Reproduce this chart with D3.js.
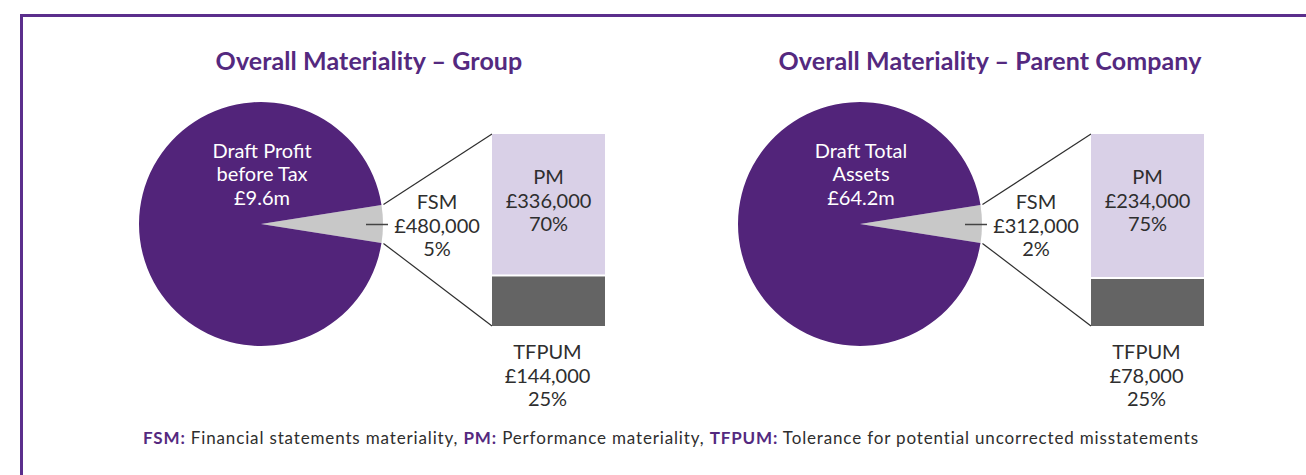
<!DOCTYPE html>
<html>
<head>
<meta charset="utf-8">
<script src="https://cdn.jsdelivr.net/npm/d3@7"></script>
<style>
  body { margin: 0; background: #fff; }
  svg text { font-family: Lato, "Open Sans", sans-serif; }
</style>
</head>
<body>
<div id="chart"></div>
<script>
const W = 1306, H = 475;

// data
const titles = ["Overall Materiality \u2013 Group", "Overall Materiality \u2013 Parent Company"];
const benchmarkLabels = [["Draft Profit", "before Tax", "\u00a39.6m"], ["Draft Total", "Assets", "\u00a364.2m"]];
const fsmValues = ["\u00a3480,000", "\u00a3312,000"];
const fsmPct = ["5%", "2%"];
const wedgeShare = [5, 5];          // share of the pie the grey wedge takes, as drawn
const pmValues = ["\u00a3336,000", "\u00a3234,000"];
const pmPct = [70, 75];
const tfpumValues = ["\u00a3144,000", "\u00a378,000"];
const tfpumPct = [25, 25];

const PURPLE = "#52247a", TITLE = "#54297f", LAV = "#d9d0e7", DARK = "#646464",
      WEDGE = "#c8c8c8", INK = "#2e2e2e";

const panelX = [0, 599];
const titleX = [369, 990];
const PIE_CX = 261, PIE_CY = 224, R = 122;
const BAR_X = 492, BAR_W = 113, BAR_TOP = 134, BAR_BOT = 326;
const LH = 23.5;

var svg = d3.select("#chart").append("svg")
    .attr("width", W)
    .attr("height", H);

// frame (only top and left edges are in view)
svg.append("path")
    .attr("d", "M21.5," + H + "V15.5H" + W)
    .attr("fill", "none")
    .attr("stroke", "#5b2e8c")
    .attr("stroke-width", 3);

function multiLine(g, lines, x, y, opts) {
    var t = g.append("text")
        .attr("x", x)
        .attr("y", y)
        .attr("text-anchor", "middle")
        .style("font-size", opts.size + "px")
        .style("fill", opts.fill);
    lines.forEach(function(l, i) {
        t.append("tspan").attr("x", x).attr("dy", i == 0 ? 0 : LH).text(l);
    });
    return t;
}

function drawPanel(i) {
    var g = svg.append("g").attr("transform", "translate(" + panelX[i] + ",0)");

    // title
    svg.append("text")
        .attr("x", titleX[i])
        .attr("y", 70)
        .attr("text-anchor", "middle")
        .style("font-size", "25px")
        .style("font-weight", "bold")
        .style("letter-spacing", "0.1px")
        .style("fill", TITLE)
        .text(titles[i]);

    // pie: wedge centred on the horizontal, pointing right
    var wedge = wedgeShare[i];
    var half = Math.PI * 2 * wedge / 100 / 2;
    var pie = d3.pie()
        .sort(null)
        .value(function(d) { return d.v; })
        .startAngle(Math.PI / 2 - half)
        .endAngle(Math.PI / 2 - half + Math.PI * 2);
    var slices = pie([{ k: "fsm", v: wedge }, { k: "rest", v: 100 - wedge }]);
    var arc = d3.arc().innerRadius(0).outerRadius(R);

    var pg = g.append("g").attr("transform", "translate(" + PIE_CX + "," + PIE_CY + ")");
    pg.selectAll("path").data(slices).enter().append("path")
        .attr("d", arc)
        .attr("fill", function(d) { return d.data.k == "fsm" ? WEDGE : PURPLE; });

    // connectors from wedge edge to bar corners
    var a0 = slices[0].startAngle, a1 = slices[0].endAngle;
    var p0 = [PIE_CX + Math.sin(a0) * (R + 2), PIE_CY - Math.cos(a0) * (R + 2)];
    var p1 = [PIE_CX + Math.sin(a1) * (R + 2), PIE_CY - Math.cos(a1) * (R + 2)];
    g.append("line").attr("x1", p0[0]).attr("y1", p0[1]).attr("x2", BAR_X).attr("y2", BAR_TOP)
        .attr("stroke", INK).attr("stroke-width", 1.2);
    g.append("line").attr("x1", p1[0]).attr("y1", p1[1]).attr("x2", BAR_X).attr("y2", BAR_BOT)
        .attr("stroke", INK).attr("stroke-width", 1.2);
    g.append("line").attr("x1", PIE_CX + R - 17).attr("y1", PIE_CY + 0.5)
        .attr("x2", PIE_CX + R + 5).attr("y2", PIE_CY + 0.5)
        .attr("stroke", "#444").attr("stroke-width", 1.5);

    // stacked bar, PM on top, TFPUM below
    var y = d3.scaleLinear()
        .domain([0, pmPct[i] + tfpumPct[i]])
        .range([BAR_TOP, BAR_BOT]);
    var segs = [{ k: "pm", a: 0, b: pmPct[i], fill: LAV },
                { k: "tf", a: pmPct[i], b: pmPct[i] + tfpumPct[i], fill: DARK }];
    g.selectAll("rect.seg").data(segs).enter().append("rect")
        .attr("class", "seg")
        .attr("x", BAR_X)
        .attr("width", BAR_W)
        .attr("y", function(d) { return y(d.a) + (d.a > 0 ? 1 : 0); })
        .attr("height", function(d) { return y(d.b) - y(d.a) - 1; })
        .attr("fill", function(d) { return d.fill; });

    var barMid = BAR_X + BAR_W / 2;
    multiLine(g, benchmarkLabels[i], PIE_CX + 1, 157.5, { size: 20, fill: "#fff" });
    multiLine(g, ["FSM", fsmValues[i], fsmPct[i]], PIE_CX + 176, 209, { size: 20, fill: INK });
    multiLine(g, ["PM", pmValues[i], pmPct[i] + "%"], barMid, 184, { size: 20, fill: INK });
    multiLine(g, ["TFPUM", tfpumValues[i], tfpumPct[i] + "%"], barMid - 1, 359, { size: 20, fill: INK });
}

drawPanel(0);
drawPanel(1);

// footnote
var notes = [["FSM:", " Financial statements materiality, "],
             ["PM:", " Performance materiality, "],
             ["TFPUM:", " Tolerance for potential uncorrected misstatements"]];
var foot = svg.append("text")
    .attr("x", 143)
    .attr("y", 444)
    .style("font-size", "17px")
    .style("letter-spacing", "0.85px")
    .style("fill", INK);
notes.forEach(function(n) {
    foot.append("tspan").style("font-weight", "bold").style("fill", TITLE).text(n[0]);
    foot.append("tspan").text(n[1]);
});
</script>
</body>
</html>
